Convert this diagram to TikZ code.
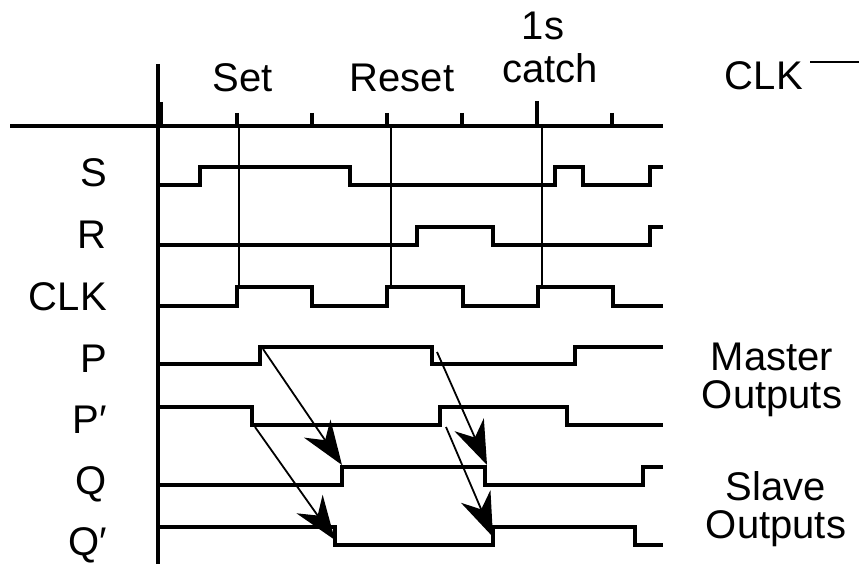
\documentclass[tikz,border=0pt]{standalone}
\usepackage{fontspec}
\setmainfont{Liberation Sans}
\usetikzlibrary{arrows.meta}
\tikzset{
  wave/.style={line width=3.5pt, line join=miter, line cap=butt},
  axisline/.style={line width=3.2pt},
  guide/.style={line width=2pt},
  cause/.style={line width=1.8pt, -{Stealth[length=44pt,width=32pt,inset=14pt]}},
  lbl/.style={font=\fontsize{40}{40}\selectfont, inner sep=0pt},
  rlbl/.style={font=\fontsize{40}{40}\selectfont, inner sep=0pt, align=center}
}
\begin{document}
\begin{tikzpicture}[x=1pt,y=-1pt]
\useasboundingbox (0,0) rectangle (859,564);
% axes
\draw[axisline] (10,126) -- (663,126);
\draw[axisline] (158,64) -- (158,564);
\draw[line width=4pt] (161,102) -- (161,126);
\foreach \xx in {237,312,387,462,612} \draw[axisline] (\xx,113) -- (\xx,126);
\draw[axisline] (537,101) -- (537,126);
% guide lines
\draw[guide] (239,126) -- (239,287);
\draw[guide] (391,126) -- (391,287);
\draw[guide] (542,126) -- (542,287);
% top labels
\node[lbl, anchor=base] (set) at (243,92) {Set};
\node[lbl, anchor=base] (reset) at (402,92) {Reset};
\node[lbl, anchor=base] (ones) at (543,40) {1s};
\node[lbl, anchor=base] (catch) at (550,83) {catch};
\node[lbl, anchor=base east] (clktop) at (803,90) {CLK};
\draw[guide] (810,62) -- (859,62);
% left labels
\node[lbl, anchor=base east] (lS) at (107,187) {S};
\node[lbl, anchor=base east] (lR) at (107,248) {R};
\node[lbl, anchor=base east] (lCLK) at (107,310) {CLK};
\node[lbl, anchor=base east] (lP) at (107,372) {P};
\node[lbl, anchor=base east] (lPp) at (107,433) {P′};
\node[lbl, anchor=base east] (lQ) at (107,494) {Q};
\node[lbl, anchor=base east] (lQp) at (107,555) {Q′};
% right labels
\node[rlbl, anchor=base] (master) at (772,370) {Master};
\node[rlbl, anchor=base] (mout) at (772,408) {Outputs};
\node[rlbl, anchor=base] (slave) at (776,500) {Slave};
\node[rlbl, anchor=base] (sout) at (776,538) {Outputs};
% waveforms
\draw[wave] (160,185) -- (200,185) -- (200,167) -- (350,167) -- (350,185) -- (555,185) -- (555,167) -- (583,167) -- (583,185) -- (650,185) -- (650,167) -- (663,167);
\draw[wave] (160,245) -- (417,245) -- (417,227) -- (493,227) -- (493,245) -- (650,245) -- (650,227) -- (663,227);
\draw[wave] (160,306) -- (237,306) -- (237,287) -- (312,287) -- (312,306) -- (387,306) -- (387,287) -- (463,287) -- (463,306) -- (538,306) -- (538,287) -- (613,287) -- (613,306) -- (663,306);
\draw[wave] (160,364) -- (260,364) -- (260,347) -- (432,347) -- (432,364) -- (575,364) -- (575,347) -- (663,347);
\draw[wave] (160,407) -- (252,407) -- (252,425) -- (440,425) -- (440,407) -- (567,407) -- (567,425) -- (663,425);
\draw[wave] (160,485) -- (342,485) -- (342,467) -- (485,467) -- (485,485) -- (643,485) -- (643,467) -- (663,467);
\draw[wave] (160,527) -- (335,527) -- (335,545) -- (493,545) -- (493,527) -- (635,527) -- (635,545) -- (663,545);
% cause arrows
\coordinate (pr) at (263,349);
\coordinate (qr) at (342,465);
\coordinate (ppf) at (255,427);
\coordinate (qpf) at (335,540);
\coordinate (pf) at (437,352);
\coordinate (qf) at (487,465);
\coordinate (ppr) at (446,427);
\coordinate (qpr) at (493,537);
\draw[cause] (pr) -- (qr);
\draw[cause] (ppf) -- (qpf);
\draw[cause] (pf) -- (qf);
\draw[cause] (ppr) -- (qpr);
\end{tikzpicture}
\end{document}
